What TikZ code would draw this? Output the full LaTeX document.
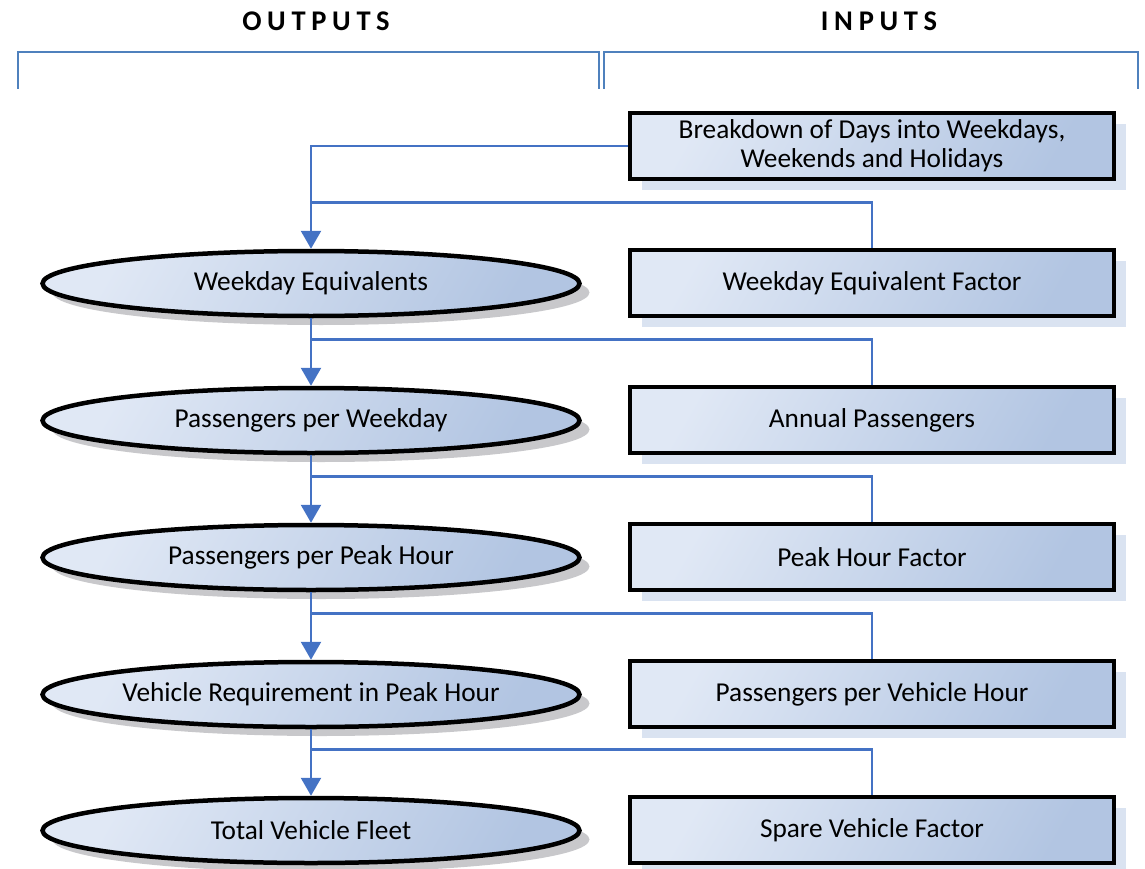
\documentclass[tikz,border=0pt]{standalone}
\usepackage{fontspec}
\setmainfont{Carlito}
\usetikzlibrary{arrows.meta,shapes.geometric,shadows}
\definecolor{fillA}{RGB}{224,232,245}
\definecolor{fillB}{RGB}{178,197,226}
\definecolor{boxshadow}{RGB}{218,227,241}
\definecolor{ellshadow}{RGB}{200,200,203}
\definecolor{connblue}{RGB}{68,114,196}
\definecolor{brblue}{RGB}{79,129,189}
\tikzset{
  boxnode/.style={draw=black, line width=4.5pt, rectangle,
    minimum width=484pt, minimum height=66pt, inner sep=0pt,
    left color=fillA, right color=fillB, shading angle=60,
    general shadow={fill=boxshadow, shadow xshift=12pt, shadow yshift=-11pt},
    font=\fontsize{27.3}{29}\selectfont, align=center},
  ellnode/.style={draw=black, line width=4.5pt, ellipse,
    minimum width=537pt, minimum height=65pt, inner sep=0pt,
    left color=fillA, right color=fillB, shading angle=60,
    general shadow={fill=ellshadow, shadow xshift=10pt, shadow yshift=-9pt},
    font=\fontsize{27.3}{29}\selectfont},
  conn/.style={draw=connblue, line width=2.6pt},
  arr/.style={conn, -{Triangle[width=20pt,length=18pt]}},
  bracket/.style={draw=brblue, line width=2pt},
  heading/.style={font=\fontsize{28.5}{30}\selectfont\bfseries\addfontfeature{LetterSpace=20}}
}
\begin{document}
\begin{tikzpicture}[x=1pt,y=-1pt]
\useasboundingbox (0,0) rectangle (1145,869);
% headings
\node[heading] (hout) at (316,21) {OUTPUTS};
\node[heading] (hin) at (879,21) {INPUTS};
% brackets
\coordinate (bl1) at (18,89);
\coordinate (bl2) at (599,89);
\coordinate (br1) at (604,89);
\coordinate (br2) at (1138,89);
\draw[bracket] (bl1) -- ++(0,-37) -- ([yshift=37pt]bl2) -- (bl2);
\draw[bracket] (br1) -- ++(0,-37) -- ([yshift=37pt]br2) -- (br2);
% input boxes
\node[boxnode] (b0) at (872,146) {Breakdown of Days into Weekdays,\\Weekends and Holidays};
\node[boxnode] (b1) at (872,283) {Weekday Equivalent Factor};
\node[boxnode] (b2) at (872,420) {Annual Passengers};
\node[boxnode] (b3) at (872,557) {Peak Hour Factor};
\node[boxnode] (b4) at (872,694) {Passengers per Vehicle Hour};
\node[boxnode] (b5) at (872,830) {Spare Vehicle Factor};
% output ellipses
\node[ellnode] (e1) at (311,283.5) {Weekday Equivalents};
\node[ellnode] (e2) at (311,420.5) {Passengers per Weekday};
\node[ellnode] (e3) at (311,557.5) {Passengers per Peak Hour};
\node[ellnode] (e4) at (311,694.5) {Vehicle Requirement in Peak Hour};
\node[ellnode] (e5) at (311,830.5) {Total Vehicle Fleet};
% junctions
\coordinate (j1) at ([yshift=45pt]b1.north -| e1.north);
\coordinate (j2) at ([yshift=45pt]b2.north -| e1.north);
\coordinate (j3) at ([yshift=45pt]b3.north -| e1.north);
\coordinate (j4) at ([yshift=45pt]b4.north -| e1.north);
\coordinate (j5) at ([yshift=45pt]b5.north -| e1.north);
% connectors
\draw[arr] (b0.west) -| (e1.north);
\draw[conn] (b1.north) |- (j1);
\draw[arr] (e1.south) -- (e2.north);
\draw[conn] (b2.north) |- (j2);
\draw[arr] (e2.south) -- (e3.north);
\draw[conn] (b3.north) |- (j3);
\draw[arr] (e3.south) -- (e4.north);
\draw[conn] (b4.north) |- (j4);
\draw[arr] (e4.south) -- (e5.north);
\draw[conn] (b5.north) |- (j5);
\end{tikzpicture}
\end{document}
